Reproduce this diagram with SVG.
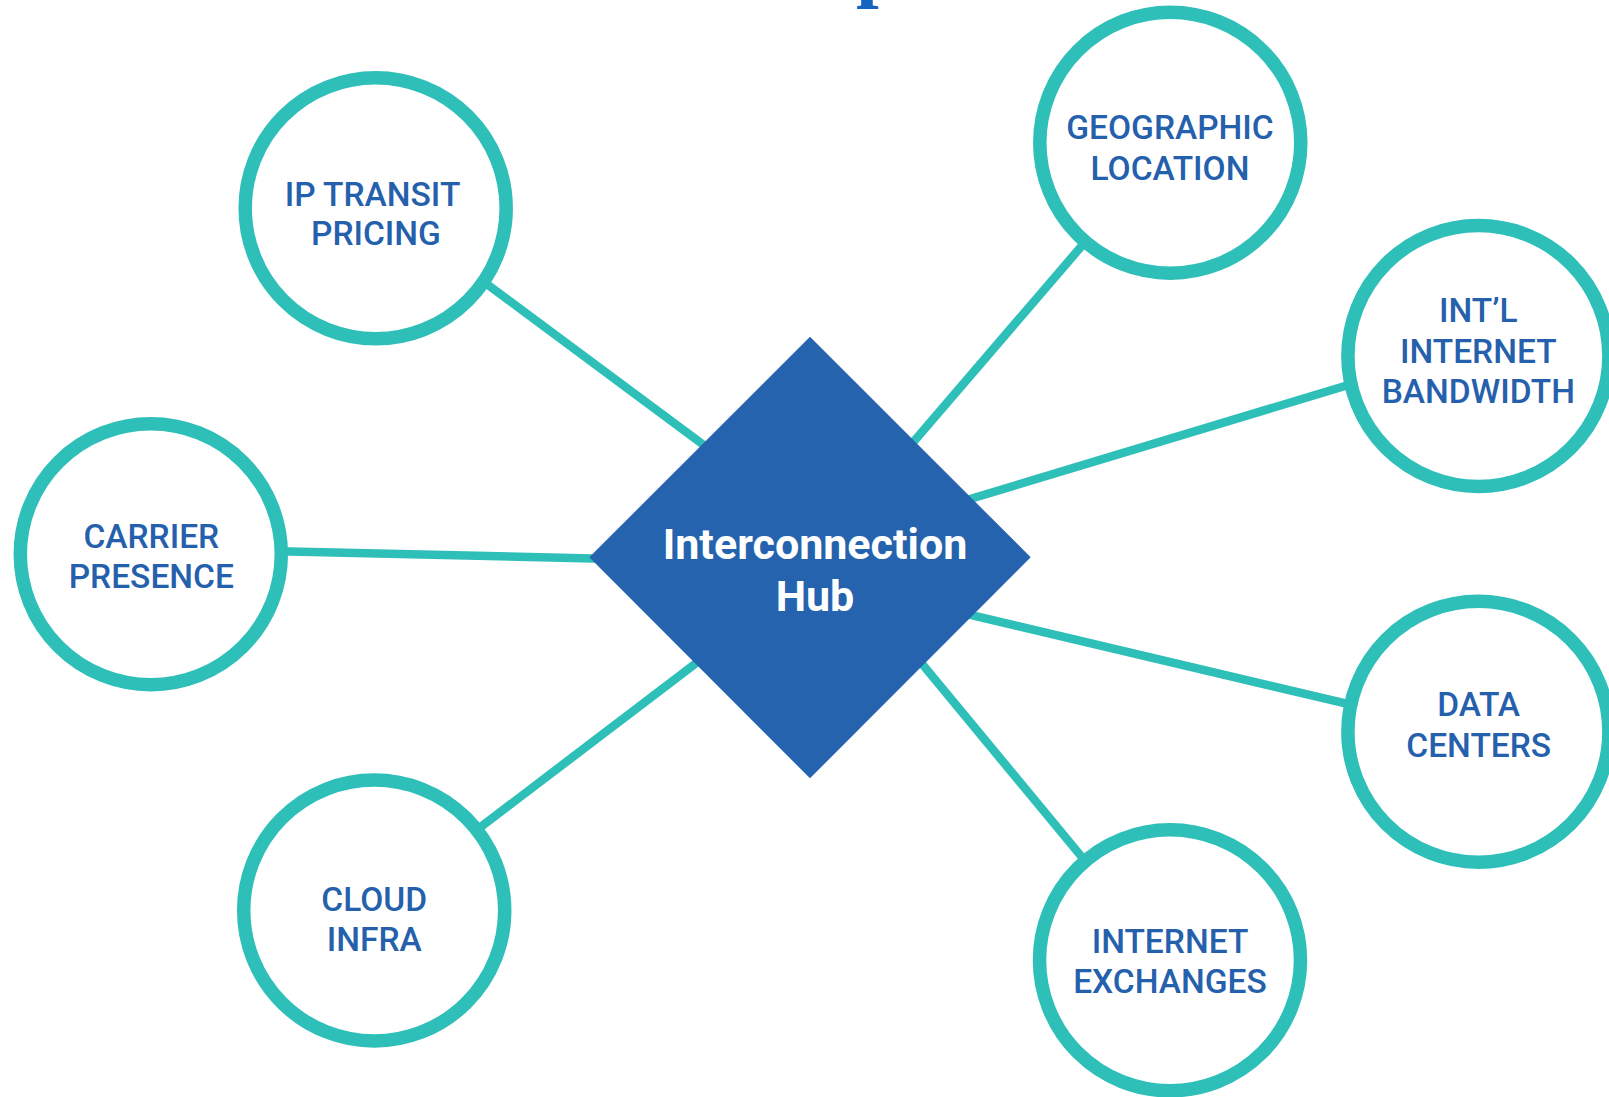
<svg xmlns="http://www.w3.org/2000/svg" width="1609" height="1097" viewBox="0 0 1609 1097">
  <style>
    .conn { stroke: #2EBFB9; stroke-width: 8.5; stroke-linecap: butt; fill: none; }
    .ring { fill: #FFFFFF; stroke: #2EBFB9; stroke-width: 13.5; }
    .lbl { font-family: Roboto, "Liberation Sans", sans-serif; font-weight: 500; font-size: 33.5px; fill: #2560AC; text-anchor: middle; }
    .hub { fill: #2563AE; }
    .hubtxt { font-family: Roboto, "Liberation Sans", sans-serif; font-weight: 700; font-size: 43px; fill: #FFFFFF; text-anchor: middle; }
    .frag { font-family: "Liberation Serif", serif; font-weight: 700; font-size: 82px; fill: #1565C0; }
  </style>
  <rect x="0" y="0" width="1609" height="1097" fill="#FFFFFF"/>
  <text class="frag" x="856" y="-9.3">p</text>

  <g id="connectors">
    <line class="conn" x1="472" y1="273.1" x2="721" y2="457.9"/>
    <line class="conn" x1="1093" y1="232.8" x2="902" y2="455.2"/>
    <line class="conn" x1="1364.1" y1="380.2" x2="950.9" y2="504.8"/>
    <line class="conn" x1="1363.5" y1="707.6" x2="951.5" y2="610.4"/>
    <line class="conn" x1="1093.7" y1="871.4" x2="910.3" y2="649.6"/>
    <line class="conn" x1="466.1" y1="838.1" x2="710.9" y2="651.9"/>
    <line class="conn" x1="268" y1="551" x2="614" y2="559"/>
  </g>

  <g id="hub">
    <polygon class="hub" points="810,336.7 1030.7,557.3 810,778.3 589.3,557.3"/>
    <text class="hubtxt" x="815" y="559.3">Interconnection</text>
    <text class="hubtxt" x="815" y="611">Hub</text>
  </g>

  <g id="ip-transit-pricing">
    <circle class="ring" cx="375.7" cy="208.3" r="130.5"/>
    <text class="lbl" x="372.5" y="205.7">IP TRANSIT</text>
    <text class="lbl" x="376" y="245">PRICING</text>
  </g>

  <g id="geographic-location">
    <circle class="ring" cx="1170.3" cy="142.7" r="130.5"/>
    <text class="lbl" x="1170" y="139.3">GEOGRAPHIC</text>
    <text class="lbl" x="1170" y="180">LOCATION</text>
  </g>

  <g id="intl-internet-bandwidth">
    <circle class="ring" cx="1478.4" cy="356" r="130.5"/>
    <text class="lbl" x="1478.3" y="322.3">INT’L</text>
    <text class="lbl" x="1478.3" y="363.3">INTERNET</text>
    <text class="lbl" x="1478.3" y="403.3">BANDWIDTH</text>
  </g>

  <g id="carrier-presence">
    <circle class="ring" cx="150.8" cy="554.2" r="130.5"/>
    <text class="lbl" x="151.3" y="547.7">CARRIER</text>
    <text class="lbl" x="151.3" y="587.7">PRESENCE</text>
  </g>

  <g id="data-centers">
    <circle class="ring" cx="1478.4" cy="731.7" r="130.5"/>
    <text class="lbl" x="1478.7" y="715.7">DATA</text>
    <text class="lbl" x="1478.7" y="756.7">CENTERS</text>
  </g>

  <g id="cloud-infra">
    <circle class="ring" cx="374.2" cy="910.5" r="130.5"/>
    <text class="lbl" x="374.2" y="911">CLOUD</text>
    <text class="lbl" x="374.2" y="950.7">INFRA</text>
  </g>

  <g id="internet-exchanges">
    <circle class="ring" cx="1170" cy="960.3" r="130.5"/>
    <text class="lbl" x="1170" y="952.7">INTERNET</text>
    <text class="lbl" x="1170" y="992.7">EXCHANGES</text>
  </g>
</svg>
